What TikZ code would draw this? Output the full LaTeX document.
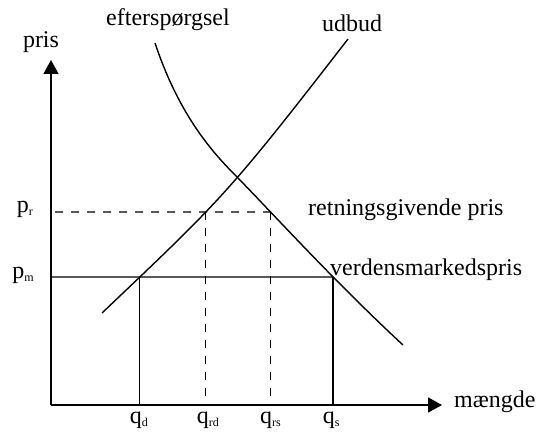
\documentclass[tikz,border=0pt]{standalone}
\usepackage{fontspec}
\setmainfont{Liberation Serif}
\usetikzlibrary{arrows.meta,intersections}
\newcommand\lowsub[1]{\raisebox{-0.3ex}{\fontsize{12}{12}\selectfont #1}}
\begin{document}
\begin{tikzpicture}[x=1pt,y=-1pt,
  lbl/.style={font=\fontsize{24}{28}\selectfont, inner sep=0pt},
  axisline/.style={line width=1.5pt, -{Triangle[length=14pt,width=15pt]}},
  curve/.style={line width=1.4pt},
  guide/.style={line width=1.3pt},
  dashguide/.style={line width=1.3pt, dash pattern=on 8pt off 8pt}]
\useasboundingbox (0,0) rectangle (540,438);
% key points
\coordinate (O) at (51,405);
\coordinate (ytop) at (51,60);
\coordinate (xend) at (442,405);
\coordinate (pm) at (51,277);
\coordinate (pr) at (55,212);
% axes
\draw[axisline] (O) -- (ytop);
\draw[axisline] (O) -- (xend);
% curves
\draw[curve, name path=dem] (155,43) .. controls (180,118) and (215,155) .. (238,178)
   .. controls (275,216) and (335,282) .. (403,345);
\draw[curve, name path=sup] (102,313) .. controls (222,199) and (228,194) .. (348,39);
% hidden price levels
\path[name path=hm] (pm) -- (500,277);
\path[name path=hr] (pr) -- (500,212);
\path[name intersections={of=sup and hm, by=Sd}];
\path[name intersections={of=dem and hm, by=Ss}];
\path[name intersections={of=sup and hr, by=Rd}];
\path[name intersections={of=dem and hr, by=Rs}];
\coordinate (qd) at (Sd |- O);
\coordinate (qs) at (Ss |- O);
\coordinate (qrd) at (Rd |- O);
\coordinate (qrs) at (Rs |- 0,400);
% guides
\draw[guide] (pm) -- (Ss);
\draw[guide] (Sd) -- (qd);
\draw[guide] (Ss) -- (qs);
\draw[dashguide] (pr) -- (Rs);
\draw[dashguide] (Rd) -- (qrd);
\draw[dashguide] (Rs) -- (qrs);
% labels
\node[lbl, anchor=base] (tpris) at (41,48) {pris};
\node[lbl, anchor=base] (tdem) at (168,26) {efterspørgsel};
\node[lbl, anchor=base] (tsup) at (352,32) {udbud};
\node[lbl, anchor=base west] (tret) at (308,215) {retningsgivende pris};
\node[lbl, anchor=base west] (tverd) at (330,275) {verdensmarkedspris};
\node[lbl, anchor=base west] (tmg) at (454,407) {mængde};
\node[lbl, anchor=base east] (tpr) at (33,212) {p\lowsub{r}};
\node[lbl, anchor=base east] (tpm) at (34,278) {p\lowsub{m}};
\node[lbl, anchor=base] (tqd) at ([xshift=-1pt]qd |- 0,423) {q\lowsub{d}};
\node[lbl, anchor=base] (tqrd) at ([xshift=2pt]qrd |- 0,423) {q\lowsub{rd}};
\node[lbl, anchor=base] (tqrs) at (qrs |- 0,423) {q\lowsub{rs}};
\node[lbl, anchor=base] (tqs) at ([xshift=-2pt]qs |- 0,423) {q\lowsub{s}};
\end{tikzpicture}
\end{document}
